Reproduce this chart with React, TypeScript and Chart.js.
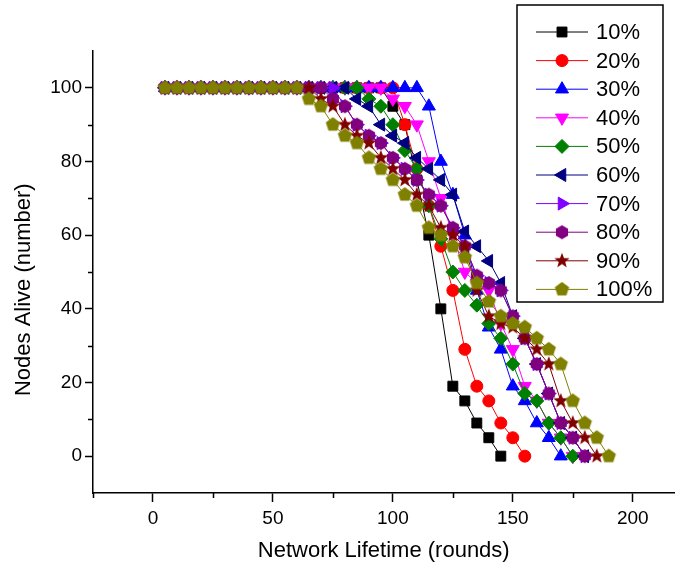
import React, { useEffect, useRef } from 'react';
import { Chart, registerables } from 'chart.js';
import { drawPoint } from 'chart.js/helpers';

Chart.register(...registerables);

// Simulation rounds sampled every 5 rounds
const ROUNDS = [5, 10, 15, 20, 25, 30, 35, 40, 45, 50, 55, 60, 65, 70, 75, 80, 85, 90, 95, 100,
  105, 110, 115, 120, 125, 130, 135, 140, 145, 150, 155, 160, 165, 170, 175, 180, 185, 190];

// Nodes alive per round, one list per percentage setting (runs until the last node dies)
const ALIVE_10 = [100, 100, 100, 100, 100, 100, 100, 100, 100, 100, 100, 100, 100, 100, 100, 100, 100, 100, 100,
  95, 90, 75, 60, 40, 19, 15, 9, 5, 0];
const ALIVE_20 = [100, 100, 100, 100, 100, 100, 100, 100, 100, 100, 100, 100, 100, 100, 100, 100, 100, 100, 100, 100,
  90, 78, 68, 57, 45, 29, 19, 15, 9, 5, 0];
const ALIVE_30 = [100, 100, 100, 100, 100, 100, 100, 100, 100, 100, 100, 100, 100, 100, 100, 100, 100, 100, 100, 100, 100, 100,
  95, 80, 71, 60, 45, 35, 29, 19, 15, 9, 5, 0];
const ALIVE_40 = [100, 100, 100, 100, 100, 100, 100, 100, 100, 100, 100, 100, 100, 100, 100, 100, 100, 100, 100,
  97, 95, 90, 80, 70, 60, 50, 47, 45, 36, 29, 19, 15, 9, 5, 0];
const ALIVE_50 = [100, 100, 100, 100, 100, 100, 100, 100, 100, 100, 100, 100, 100, 100, 100, 100, 100,
  97, 95, 90, 83, 78, 68, 59, 50, 45, 41, 36, 32, 25, 17, 15, 9, 5, 0];
const ALIVE_60 = [100, 100, 100, 100, 100, 100, 100, 100, 100, 100, 100, 100, 100, 100, 100, 100,
  97, 95, 90, 87, 85, 81, 78, 75, 71, 61, 57, 53, 47, 38, 32, 25, 17, 9, 5, 0];
const ALIVE_70 = [100, 100, 100, 100, 100, 100, 100, 100, 100, 100, 100, 100, 100, 100, 100,
  95, 90, 87, 85, 81, 78, 75, 71, 68, 62, 57, 49, 47, 45, 38, 32, 25, 17, 9, 5, 0];
const ALIVE_80 = [100, 100, 100, 100, 100, 100, 100, 100, 100, 100, 100, 100, 100, 100,
  97, 95, 90, 87, 85, 81, 78, 75, 71, 68, 62, 57, 49, 47, 45, 38, 32, 25, 17, 9, 5, 0];
const ALIVE_90 = [100, 100, 100, 100, 100, 100, 100, 100, 100, 100, 100, 100, 100,
  97, 95, 90, 87, 85, 81, 78, 75, 71, 68, 62, 60, 57, 45, 38, 36, 35, 32, 29, 25, 15, 9, 5, 0];
const ALIVE_100 = [100, 100, 100, 100, 100, 100, 100, 100, 100, 100, 100, 100,
  97, 95, 90, 87, 85, 81, 78, 75, 71, 68, 62, 60, 57, 54, 47, 42, 38, 36, 35, 32, 29, 25, 15, 9, 5, 0];

const SERIES_LABELS = ['10%', '20%', '30%', '40%', '50%', '60%', '70%', '80%', '90%', '100%'];

// Axis ticks
const X_MAJOR = [0, 50, 100, 150, 200];
const X_MINOR = [-25, 25, 75, 125, 175];
const Y_MAJOR = [0, 20, 40, 60, 80, 100];
const Y_MINOR = [10, 30, 50, 70, 90];

const Y_TITLE = 'Nodes Alive (number)';
const X_TITLE = 'Network Lifetime (rounds)';

const FONT = '"Liberation Sans", Arial, sans-serif';

// Small bitmap markers for shapes Chart.js has no built-in style for
function makeMarker(kind: 'pentagon' | 'hexagon' | 'star', color: string, r: number) {
  const s = Math.ceil(r * 2 + 2);
  const c = document.createElement('canvas');
  c.width = s;
  c.height = s;
  const g = c.getContext('2d')!;
  const cx = s / 2;
  const cy = s / 2;
  g.fillStyle = color;
  g.beginPath();
  if (kind === 'star') {
    for (let i = 0; i < 10; i++) {
      const a = -Math.PI / 2 + (i * Math.PI) / 5;
      const rr = i % 2 === 0 ? r : r * 0.42;
      const px = cx + Math.cos(a) * rr;
      const py = cy + Math.sin(a) * rr;
      if (i === 0) g.moveTo(px, py); else g.lineTo(px, py);
    }
  } else {
    const n = kind === 'pentagon' ? 5 : 6;
    for (let i = 0; i < n; i++) {
      const a = -Math.PI / 2 + (i * 2 * Math.PI) / n;
      const px = cx + Math.cos(a) * r;
      const py = cy + Math.sin(a) * r;
      if (i === 0) g.moveTo(px, py); else g.lineTo(px, py);
    }
  }
  g.closePath();
  g.fill();
  return c;
}

function toPoints(values: number[]) {
  return values.map((v, i) => ({ x: ROUNDS[i], y: v }));
}

// Boxed legend with line + marker samples, drawn on the canvas
const boxLegend = {
  id: 'boxLegend',
  afterDraw(chart: any) {
    const ctx = chart.ctx as CanvasRenderingContext2D;
    const left = 517;
    const top = 5;
    const right = 663;
    const bottom = 302;
    ctx.save();
    ctx.fillStyle = '#ffffff';
    ctx.fillRect(left, top, right - left, bottom - top);
    ctx.strokeStyle = '#000000';
    ctx.lineWidth = 1.5;
    ctx.strokeRect(left, top, right - left, bottom - top);
    ctx.font = `22px ${FONT}`;
    ctx.textBaseline = 'middle';
    ctx.textAlign = 'left';
    chart.data.datasets.forEach((ds: any, i: number) => {
      const y = 32 + i * 28.6;
      ctx.strokeStyle = ds.borderColor;
      ctx.lineWidth = 1;
      ctx.beginPath();
      ctx.moveTo(536, y);
      ctx.lineTo(588, y);
      ctx.stroke();
      ctx.fillStyle = ds.pointBackgroundColor;
      ctx.strokeStyle = ds.pointBorderColor;
      drawPoint(ctx, {
        pointStyle: ds.pointStyle,
        rotation: ds.pointRotation || 0,
        radius: ds.pointRadius,
        borderWidth: 1,
      }, 562, y);
      ctx.fillStyle = '#000000';
      ctx.fillText(ds.label, 596, y + 1);
    });
    ctx.restore();
  },
};

// Short minor tick marks on both axes, plus the vertical axis title
const axisExtras = {
  id: 'axisExtras',
  afterDraw(chart: any) {
    const { ctx, chartArea, scales } = chart;
    ctx.save();
    ctx.strokeStyle = '#000000';
    ctx.lineWidth = 1.5;
    ctx.beginPath();
    X_MINOR.forEach((v) => {
      const px = Math.round(scales.x.getPixelForValue(v)) + 0.5;
      ctx.moveTo(px, chartArea.bottom);
      ctx.lineTo(px, chartArea.bottom + 5);
    });
    Y_MINOR.forEach((v) => {
      const py = Math.round(scales.y.getPixelForValue(v)) + 0.5;
      ctx.moveTo(chartArea.left - 5, py);
      ctx.lineTo(chartArea.left, py);
    });
    ctx.stroke();

    ctx.translate(24, chartArea.top + (chartArea.bottom - chartArea.top) * 0.54);
    ctx.rotate(-Math.PI / 2);
    ctx.font = `22px ${FONT}`;
    ctx.fillStyle = '#000000';
    ctx.textAlign = 'center';
    ctx.textBaseline = 'middle';
    ctx.fillText(Y_TITLE, 0, 0);
    ctx.restore();
  },
};

export default function App() {
  const canvasRef = useRef<HTMLCanvasElement | null>(null);

  useEffect(() => {
    const canvas = canvasRef.current;
    if (!canvas) return;

    const styles = [
      { color: '#000000', style: 'rect', rotation: 0, radius: 7 },
      { color: '#FF0000', style: 'circle', rotation: 0, radius: 6 },
      { color: '#0000FF', style: 'triangle', rotation: 0, radius: 7.5 },
      { color: '#FF00FF', style: 'triangle', rotation: 180, radius: 7.5 },
      { color: '#008000', style: 'rectRot', rotation: 0, radius: 7 },
      { color: '#000080', style: 'triangle', rotation: 270, radius: 7.5 },
      { color: '#8000FF', style: 'triangle', rotation: 90, radius: 7.5 },
      { color: '#800080', style: makeMarker('hexagon', '#800080', 7), rotation: 0, radius: 7 },
      { color: '#800000', style: makeMarker('star', '#800000', 8), rotation: 0, radius: 7 },
      { color: '#808000', style: makeMarker('pentagon', '#808000', 7.5), rotation: 0, radius: 7 },
    ];
    const seriesValues = [ALIVE_10, ALIVE_20, ALIVE_30, ALIVE_40, ALIVE_50, ALIVE_60, ALIVE_70, ALIVE_80, ALIVE_90, ALIVE_100];

    const datasets = seriesValues.map((vals, i) => ({
      label: SERIES_LABELS[i],
      data: toPoints(vals),
      borderColor: styles[i].color,
      backgroundColor: styles[i].color,
      borderWidth: 1,
      pointStyle: styles[i].style as any,
      pointRotation: styles[i].rotation,
      pointRadius: styles[i].radius,
      pointBackgroundColor: styles[i].color,
      pointBorderColor: styles[i].color,
      pointBorderWidth: 1,
      tension: 0,
      fill: false,
      order: seriesValues.length - i,
    }));

    const chart = new Chart(canvas, {
      type: 'line',
      data: { datasets },
      options: {
        animation: false,
        responsive: false,
        devicePixelRatio: 1,
        layout: { padding: { top: 51, right: 0, bottom: 0, left: 0 } },
        plugins: {
          legend: { display: false },
          tooltip: { enabled: false },
        },
        scales: {
          x: {
            type: 'linear',
            min: -25,
            max: 217.4,
            afterBuildTicks: (scale: any) => {
              scale.ticks = X_MAJOR.map((v) => ({ value: v }));
            },
            afterFit: (scale: any) => {
              scale.height = 73;
            },
            grid: { drawOnChartArea: false, drawTicks: true, tickLength: 9, tickWidth: 1.5, tickColor: '#000000' },
            border: { display: true, color: '#000000', width: 1.5 },
            ticks: {
              color: '#000000',
              padding: 5,
              maxRotation: 0,
              font: { family: FONT, size: 19 },
              callback: (v: any) => String(v),
            },
            title: {
              display: true,
              text: X_TITLE,
              color: '#000000',
              font: { family: FONT, size: 22 },
              padding: { top: 0, bottom: 2 },
            },
          },
          y: {
            type: 'linear',
            min: -10,
            max: 110,
            afterBuildTicks: (scale: any) => {
              scale.ticks = Y_MAJOR.map((v) => ({ value: v }));
            },
            afterFit: (scale: any) => {
              scale.width = 93;
            },
            grid: { drawOnChartArea: false, drawTicks: true, tickLength: 8, tickWidth: 1.5, tickColor: '#000000' },
            border: { display: true, color: '#000000', width: 1.5 },
            ticks: {
              color: '#000000',
              padding: 3,
              font: { family: FONT, size: 19 },
              callback: (v: any) => String(v),
            },
            title: { display: false },
          },
        },
      },
      plugins: [axisExtras, boxLegend],
    });

    return () => chart.destroy();
  }, []);

  return (
    <div style={{ position: 'absolute', left: 0, top: 0, width: 683, height: 566, background: '#ffffff' }}>
      <canvas ref={canvasRef} width={683} height={566} />
    </div>
  );
}
